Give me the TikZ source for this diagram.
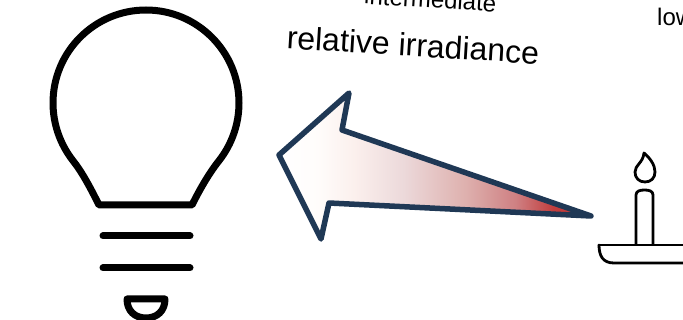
\documentclass[tikz,border=0pt]{standalone}
\usepackage{fontspec}
\setmainfont{Liberation Sans}
\pgfdeclarehorizontalshading{arrowfade}{100bp}{rgb(0bp)=(1,1,1); rgb(25bp)=(1,1,1); rgb(31bp)=(1,.99,.985); rgb(37bp)=(.985,.94,.93); rgb(45bp)=(.925,.85,.855); rgb(55bp)=(.87,.69,.68); rgb(63bp)=(.81,.5,.51); rgb(69bp)=(.76,.24,.24); rgb(75bp)=(.76,.2,.2); rgb(100bp)=(.76,.2,.2)}
\definecolor{navy}{HTML}{1F3855}
\tikzset{
  px/.style={x=1pt,y=-1pt},
  bulbline/.style={draw=black,line width=7pt,line cap=round,line join=round},
  candleline/.style={draw=black,line width=2.8pt,line cap=round,line join=round},
  arrowline/.style={draw=navy,line width=5.5pt,line join=round,line cap=round},
  caption/.style={inner sep=0pt,text=black}
}
\begin{document}
\begin{tikzpicture}[px]
\useasboundingbox (0,0) rectangle (683,320);
\clip (0,0) rectangle (683,320);
\fill[white] (0,0) rectangle (683,320);
% bulb
\draw[bulbline] (99,205) -- (192,205) .. controls (201,187) and (210,172) .. (219.3,160.3)
  .. controls (232,144) and (239,123.7) .. (239,103)
  .. controls (239,51.6) and (197.4,10) .. (146,10) .. controls (94.6,10) and (53,51.6) .. (53,103)
  .. controls (53,123.7) and (60,144) .. (72.7,160.3) .. controls (82,172) and (90,187) .. (99,205) -- cycle;
\draw[bulbline] (103,236) -- (190,236);
\draw[bulbline] (103,268) -- (190,268);
\draw[bulbline] (127,299) -- (165,299) .. controls (165,311) and (157,318) .. (146,318) .. controls (135,318) and (127,311) .. (127,299) -- cycle;
% arrow
\path[shading=arrowfade] (279,155) -- (349,93) -- (342,130) -- (591,216) -- (329,203) -- (321,239) -- cycle;
\draw[arrowline] (279,155) -- (349,93) -- (342,130) -- (591,216) -- (329,203) -- (321,239) -- cycle;
% candle
\draw[candleline] (644,153) .. controls (650,158) and (655,165) .. (655,172) .. controls (655,178) and (651,182) .. (645,182) .. controls (639,182) and (635,178) .. (635,172) .. controls (635,165) and (643,163) .. (644,153) -- cycle;
\draw[candleline] (636,244) -- (636,195) .. controls (636,191) and (640,190) .. (644.5,190) .. controls (649,190) and (653,191) .. (653,195) -- (653,244);
\draw[candleline] (599,245) -- (690,245);
\draw[candleline] (599,245) .. controls (599,256) and (603,263) .. (614,263) -- (690,263);
% labels
\node[caption,font=\fontsize{32}{36}\selectfont,rotate=-3.5] (irr) at (413,45) {relative irradiance};
\node[caption,font=\fontsize{24}{28}\selectfont,rotate=-3.5,anchor=base east] (inter) at (496,12) {intermediate};
\node[caption,font=\fontsize{24}{28}\selectfont,anchor=base west] (low) at (657,26) {low};
\end{tikzpicture}
\end{document}
